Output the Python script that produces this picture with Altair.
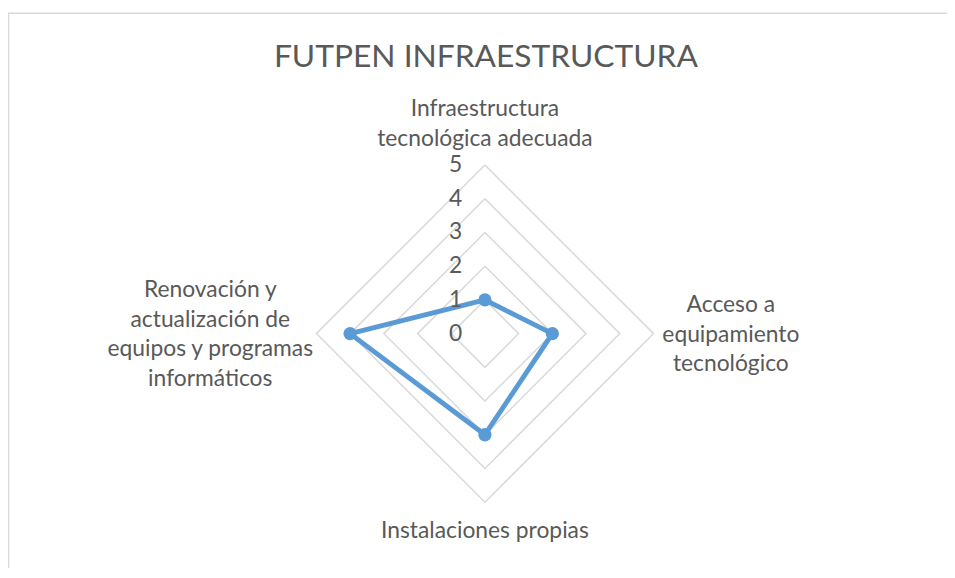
import math
import altair as alt
import pandas as pd

categories = [
    "Infraestructura\ntecnológica adecuada",
    "Acceso a\nequipamiento\ntecnológico",
    "Instalaciones propias",
    "Renovación y\nactualización de\nequipos y programas\ninformáticos",
]
values = [1, 2, 3, 4]
ticks = [0, 1, 2, 3, 4, 5]
title_text = "FUTPEN INFRAESTRUCTURA"

n = len(categories)
angles = [math.pi / 2 - 2 * math.pi * i / n for i in range(n)]

# series polygon (closed)
series_rows = []
for i in range(n + 1):
    k = i % n
    series_rows.append({"order": i, "cat": categories[k],
                        "x": values[k] * math.cos(angles[k]),
                        "y": values[k] * math.sin(angles[k])})
series_df = pd.DataFrame(series_rows)
points_df = series_df.iloc[:n]

# grid rings
grid_rows = []
for r in ticks:
    for i in range(n + 1):
        k = i % n
        grid_rows.append({"ring": r, "order": i,
                          "x": r * math.cos(angles[k]),
                          "y": r * math.sin(angles[k])})
grid_df = pd.DataFrame(grid_rows)

tick_df = pd.DataFrame({"t": ticks, "x": [0.0] * len(ticks), "y": [float(t) for t in ticks],
                        "label": [str(t) for t in ticks]})

rmax = max(ticks)
lab_df = pd.DataFrame({"cat": categories, "idx": list(range(n)),
                       "x": [rmax * math.cos(a) for a in angles],
                       "y": [rmax * math.sin(a) for a in angles]})

W, H = 947, 560
cx, cy, unit = 481, 326, 34.0
xs = alt.Scale(domain=[-cx / unit, (W - cx) / unit], nice=False, zero=False)
ys = alt.Scale(domain=[-(H - cy) / unit, cy / unit], nice=False, zero=False)
X = lambda: alt.X("x:Q", scale=xs, axis=None)
Y = lambda: alt.Y("y:Q", scale=ys, axis=None)

TXT = "#595959"
FONT = "Lato"
FS = 23

grid = alt.Chart(grid_df).mark_line(color="#d9d9d9", strokeWidth=1.5).encode(
    x=X(), y=Y(), detail="ring:N", order="order:Q")

line = alt.Chart(series_df).mark_line(color="#5B9BD5", strokeWidth=5, strokeJoin="round").encode(
    x=X(), y=Y(), order="order:Q")

pts = alt.Chart(points_df).mark_point(filled=True, color="#5B9BD5", size=180, opacity=1).encode(
    x=X(), y=Y())

tick_txt = alt.Chart(tick_df).mark_text(align="right", baseline="middle", dx=-23, fontSize=FS,
                                        font=FONT, color=TXT).encode(x=X(), y=Y(), text="label:N")

def cat_label(i, **kw):
    return alt.Chart(lab_df).transform_filter(alt.datum.idx == i).mark_text(
        fontSize=FS, font=FONT, color=TXT, lineBreak="\n", lineHeight=30, baseline="middle",
        align="center", **kw
    ).encode(x=X(), y=Y(), text="cat:N")

labels = [
    cat_label(0, dy=-56),
    cat_label(1, dx=78, dy=-29),
    cat_label(2, dy=29),
    cat_label(3, dx=-107, dy=-44),
]

title = alt.Chart(pd.DataFrame({"t": [title_text]})).mark_text(
    align="center", baseline="alphabetic", fontSize=32, font=FONT, color=TXT
).encode(x=alt.value(cx + 1), y=alt.value(57), text="t:N")

frame_top = alt.Chart(pd.DataFrame({"a": [0]})).mark_rule(color="#d9d9d9", strokeWidth=1.5).encode(
    x=alt.value(0), x2=alt.value(W), y=alt.value(3))
frame_left = alt.Chart(pd.DataFrame({"a": [0]})).mark_rule(color="#d9d9d9", strokeWidth=1.5).encode(
    x=alt.value(0.5), y=alt.value(3), y2=alt.value(H + 20))

chart = alt.layer(frame_top, frame_left, grid, line, pts, tick_txt, *labels, title).properties(
    width=W, height=H, autosize=alt.AutoSizeParams(type="none"), padding=0
).configure(background="white").configure_view(stroke=None)

chart.save("out.html", embed_options={"renderer": "svg", "actions": False})
